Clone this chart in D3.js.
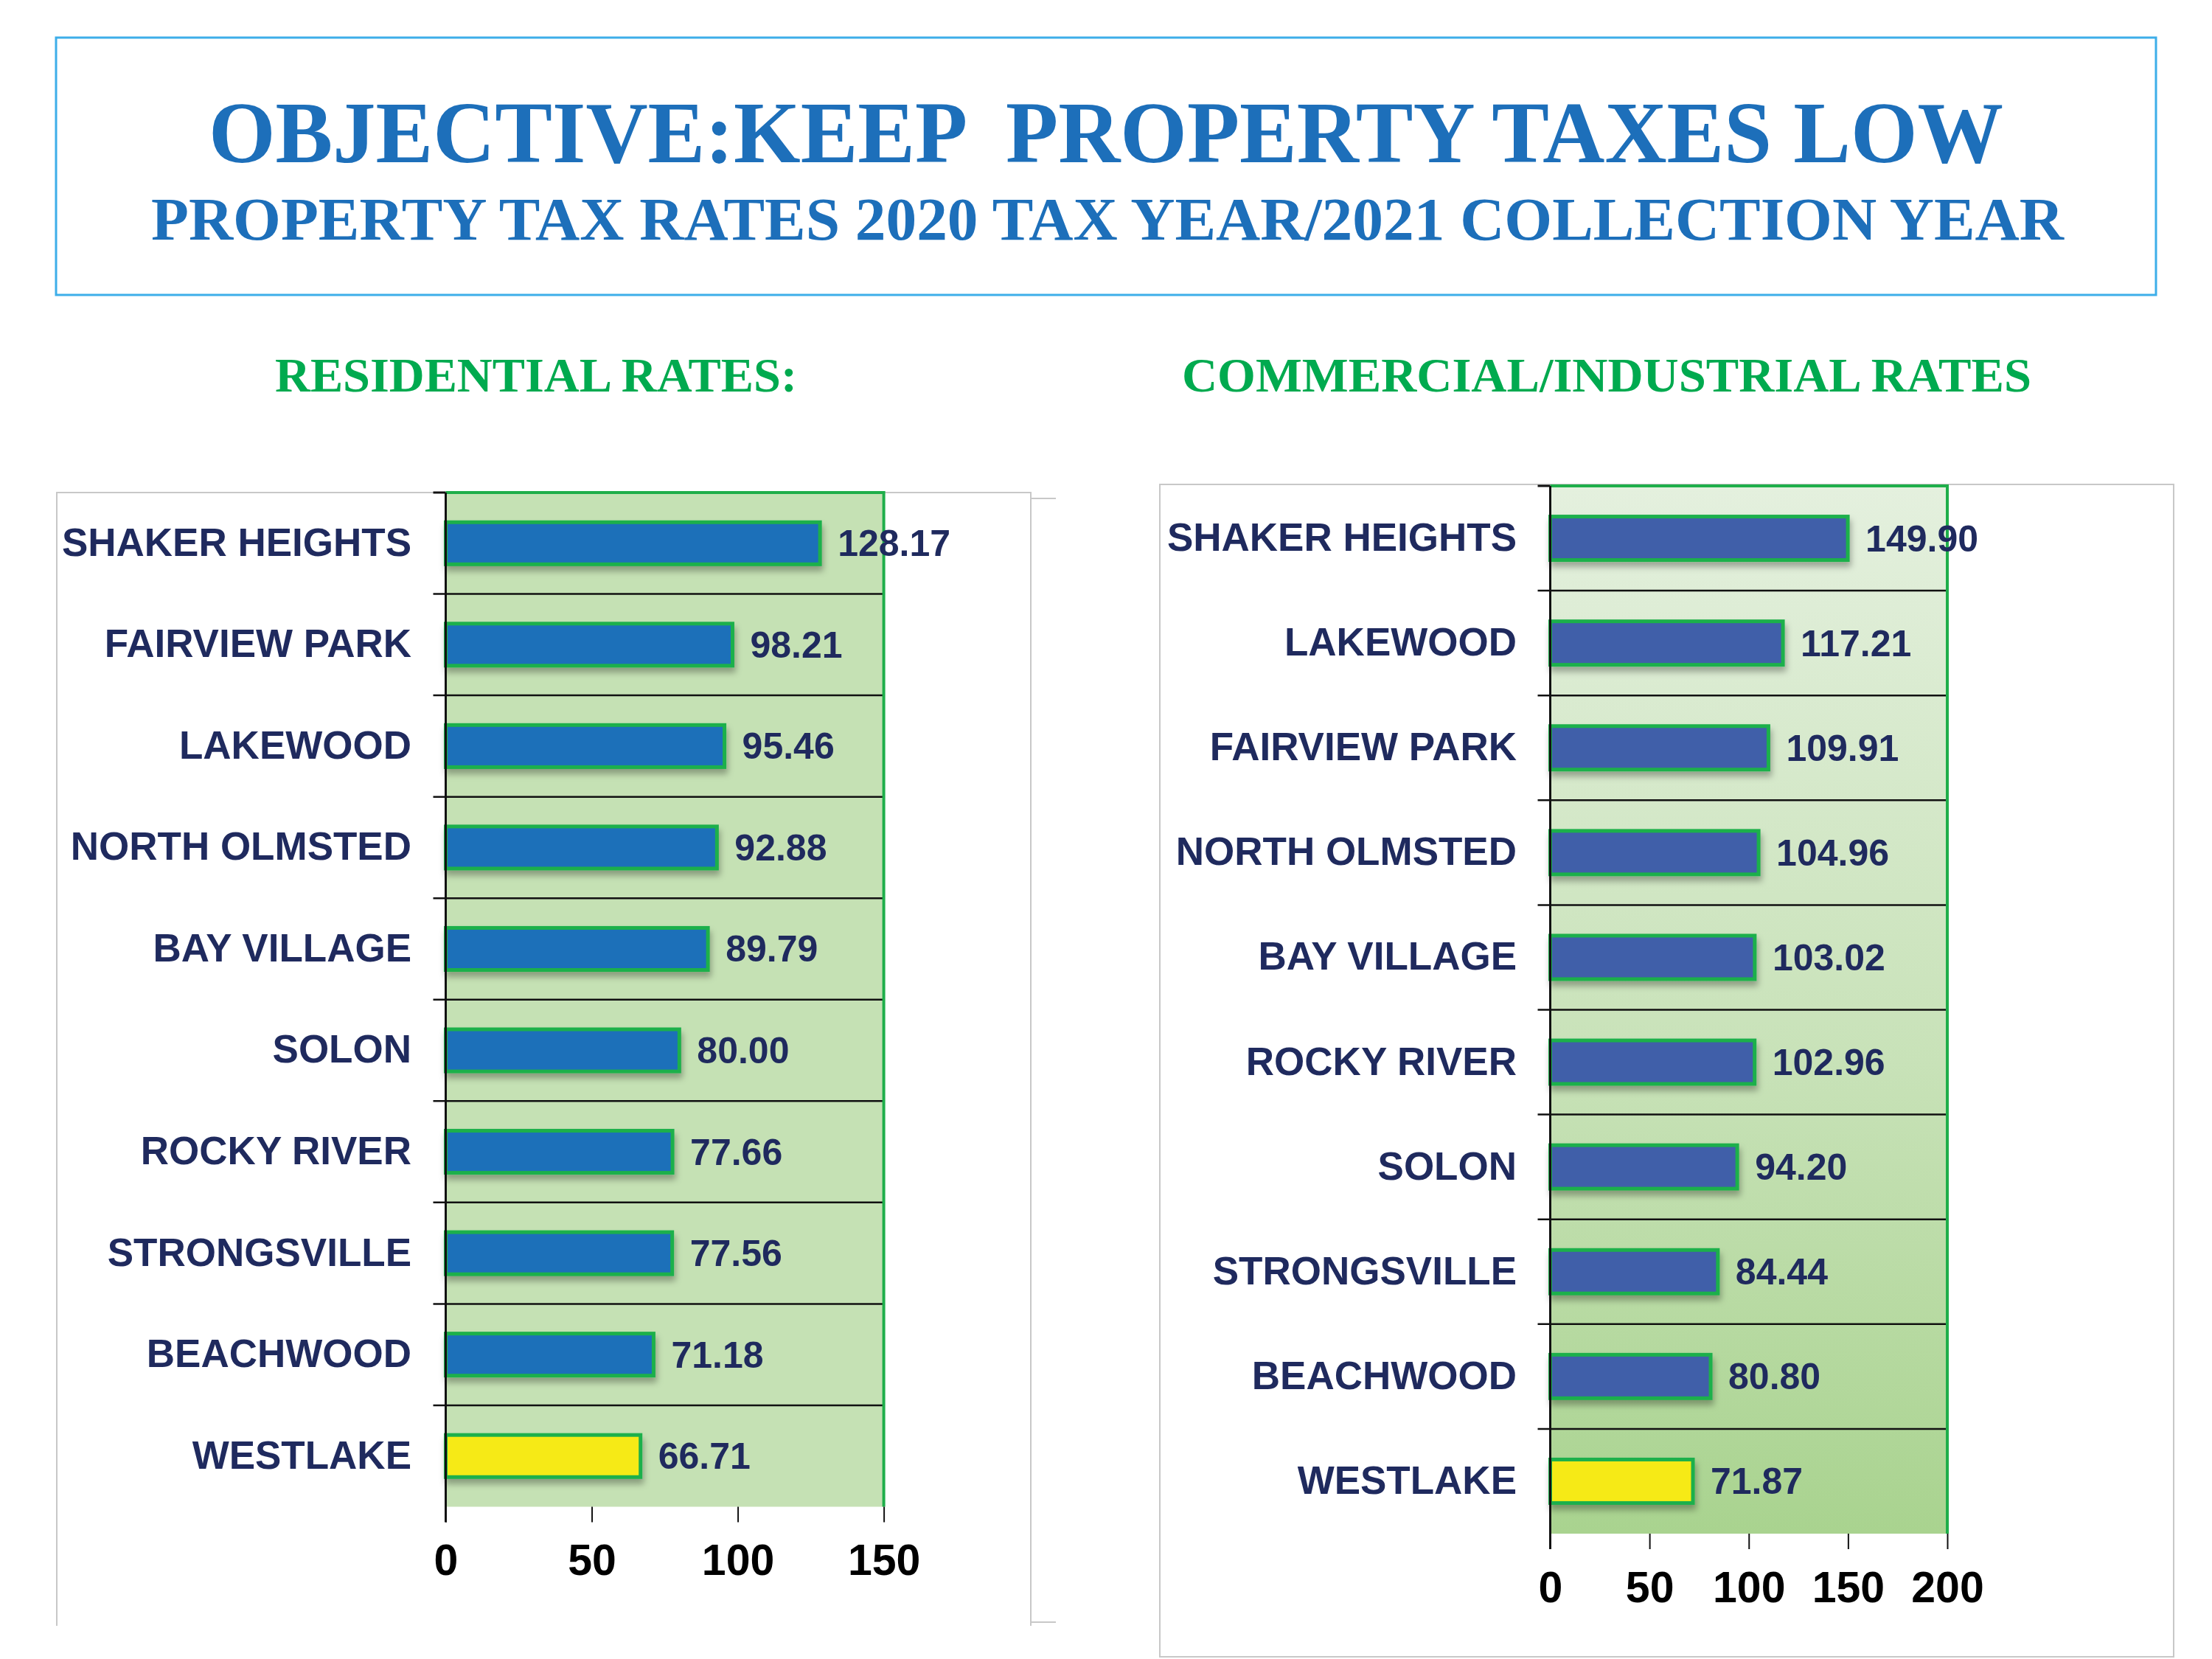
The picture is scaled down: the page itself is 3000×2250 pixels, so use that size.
<!DOCTYPE html>
<html>
<head>
<meta charset="utf-8">
<script src="https://cdn.jsdelivr.net/npm/d3@7"></script>
<style>
  html, body { margin: 0; padding: 0; background: #ffffff; }
  svg { display: block; }
</style>
</head>
<body>
<svg id="chart" width="3000" height="2250"></svg>
<script>
// ---------- DATA ----------
const titleLine1 = "OBJECTIVE:KEEP  PROPERTY TAXES LOW";
const titleLine2 = "PROPERTY TAX RATES 2020 TAX YEAR/2021 COLLECTION YEAR";
const residentialTitle = "RESIDENTIAL RATES:";
const commercialTitle = "COMMERCIAL/INDUSTRIAL RATES";

const residentialCities = ["SHAKER HEIGHTS", "FAIRVIEW PARK", "LAKEWOOD", "NORTH OLMSTED", "BAY VILLAGE",
                           "SOLON", "ROCKY RIVER", "STRONGSVILLE", "BEACHWOOD", "WESTLAKE"];
const residentialRates = [128.17, 98.21, 95.46, 92.88, 89.79, 80.00, 77.66, 77.56, 71.18, 66.71];
const residentialTicks = [0, 50, 100, 150];

const commercialCities = ["SHAKER HEIGHTS", "LAKEWOOD", "FAIRVIEW PARK", "NORTH OLMSTED", "BAY VILLAGE",
                          "ROCKY RIVER", "SOLON", "STRONGSVILLE", "BEACHWOOD", "WESTLAKE"];
const commercialRates = [149.90, 117.21, 109.91, 104.96, 103.02, 102.96, 94.20, 84.44, 80.80, 71.87];
const commercialTicks = [0, 50, 100, 150, 200];

const highlightCity = "WESTLAKE";

// ---------- DRAW ----------
const svg = d3.select("#chart");
const defs = svg.append("defs");

const shadow = defs.append("filter").attr("id", "shadow")
  .attr("x", "-10%").attr("y", "-30%").attr("width", "130%").attr("height", "180%");
shadow.append("feDropShadow").attr("dx", 2).attr("dy", 7).attr("stdDeviation", 4)
  .attr("flood-color", "#000").attr("flood-opacity", 0.3);

const grad = defs.append("linearGradient").attr("id", "greenGrad")
  .attr("x1", 0).attr("y1", 0).attr("x2", 0).attr("y2", 1);
grad.append("stop").attr("offset", "0%").attr("stop-color", "#e4f0de");
grad.append("stop").attr("offset", "55%").attr("stop-color", "#c8e2b8");
grad.append("stop").attr("offset", "100%").attr("stop-color", "#a9d38f");

// Header box
svg.append("rect").attr("x", 76).attr("y", 51).attr("width", 2848).attr("height", 349)
  .attr("fill", "none").attr("stroke", "#3daee9").attr("stroke-width", 3);

svg.append("text").attr("x", 1500).attr("y", 220).attr("text-anchor", "middle")
  .attr("font-family", "Liberation Serif, Times New Roman, serif").attr("font-weight", "bold")
  .attr("font-size", 118).attr("fill", "#1d6fba")
  .attr("textLength", 2434).attr("lengthAdjust", "spacingAndGlyphs")
  .style("white-space", "pre").text(titleLine1);

svg.append("text").attr("x", 1502).attr("y", 325).attr("text-anchor", "middle")
  .attr("font-family", "Liberation Serif, Times New Roman, serif").attr("font-weight", "bold")
  .attr("font-size", 82).attr("fill", "#1d6fba")
  .attr("textLength", 2594).attr("lengthAdjust", "spacingAndGlyphs")
  .text(titleLine2);

svg.append("text").attr("x", 727).attr("y", 531).attr("text-anchor", "middle")
  .attr("font-family", "Liberation Serif, Times New Roman, serif").attr("font-weight", "bold")
  .attr("font-size", 66).attr("fill", "#00aa4f")
  .attr("textLength", 708).attr("lengthAdjust", "spacingAndGlyphs")
  .text(residentialTitle);

svg.append("text").attr("x", 2179).attr("y", 531).attr("text-anchor", "middle")
  .attr("font-family", "Liberation Serif, Times New Roman, serif").attr("font-weight", "bold")
  .attr("font-size", 66).attr("fill", "#00aa4f")
  .attr("textLength", 1152).attr("lengthAdjust", "spacingAndGlyphs")
  .text(commercialTitle);

// Outer frames
const frameColor = "#c8c8c8";
svg.append("path").attr("d", "M77,2205 V668 H1398 V2205").attr("fill", "none")
  .attr("stroke", frameColor).attr("stroke-width", 2);
svg.append("path").attr("d", "M1398,676 H1432 M1398,2200 H1432").attr("fill", "none")
  .attr("stroke", frameColor).attr("stroke-width", 2);
svg.append("rect").attr("x", 1573).attr("y", 657).attr("width", 1375).attr("height", 1590)
  .attr("fill", "none").attr("stroke", frameColor).attr("stroke-width", 2);

function drawChart(opts) {
  const { cities, rates, ticks, xDomainMax, xRange, yRange, labelX, bg, barColor } = opts;
  const g = svg.append("g");

  const x = d3.scaleLinear().domain([0, xDomainMax]).range(xRange);
  const pi = 0.585;
  const y = d3.scaleBand().domain(cities).range(yRange).paddingInner(pi).paddingOuter(pi / 2);
  const step = y.step();

  g.append("rect").attr("x", xRange[0]).attr("y", yRange[0])
    .attr("width", xRange[1] - xRange[0]).attr("height", yRange[1] - yRange[0])
    .attr("fill", bg);

  const bounds = d3.range(cities.length + 1).map(i => yRange[0] + i * step);
  g.selectAll("line.sep").data(bounds.slice(1, -1)).join("line")
    .attr("x1", xRange[0] - 17).attr("x2", xRange[1])
    .attr("y1", d => d).attr("y2", d => d)
    .attr("stroke", "#111").attr("stroke-width", 2.5);
  g.append("line").attr("x1", xRange[0] - 17).attr("x2", xRange[0])
    .attr("y1", yRange[0]).attr("y2", yRange[0]).attr("stroke", "#111").attr("stroke-width", 3);

  g.append("path")
    .attr("d", `M${xRange[0]},${yRange[0]} H${xRange[1]} V${yRange[1]}`)
    .attr("fill", "none").attr("stroke", "#1fae4a").attr("stroke-width", 4);

  g.selectAll("rect.bar").data(cities).join("rect")
    .attr("class", "bar")
    .attr("x", xRange[0])
    .attr("y", d => y(d))
    .attr("width", (d, i) => x(rates[i]) - xRange[0])
    .attr("height", y.bandwidth())
    .attr("fill", d => d === highlightCity ? "#f6ea17" : barColor)
    .attr("stroke", "#1db04b").attr("stroke-width", 5)
    .attr("filter", "url(#shadow)");

  g.selectAll("text.val").data(cities).join("text")
    .attr("class", "val")
    .attr("x", (d, i) => x(rates[i]) + 24)
    .attr("y", d => y(d) + y.bandwidth() / 2)
    .attr("dy", "0.35em")
    .attr("font-family", "Liberation Sans, Arial, sans-serif").attr("font-weight", "bold")
    .attr("font-size", 50).attr("fill", "#1f2a5e")
    .text((d, i) => rates[i].toFixed(2));

  g.selectAll("text.cat").data(cities).join("text")
    .attr("class", "cat")
    .attr("x", labelX)
    .attr("y", d => y(d) + y.bandwidth() / 2)
    .attr("dy", "0.32em")
    .attr("text-anchor", "end")
    .attr("font-family", "Liberation Sans, Arial, sans-serif").attr("font-weight", "bold")
    .attr("font-size", 53).attr("fill", "#1f2a5e")
    .text(d => d);

  const xAxis = d3.axisBottom(x).tickValues(ticks).tickSize(21).tickPadding(30)
    .tickFormat(d3.format("d"));
  const ax = g.append("g").attr("transform", `translate(0,${yRange[1]})`).call(xAxis);
  ax.select(".domain").remove();
  ax.selectAll(".tick line").attr("stroke", "#111").attr("stroke-width", 2);
  ax.selectAll(".tick text")
    .attr("font-family", "Liberation Sans, Arial, sans-serif").attr("font-weight", "bold")
    .attr("font-size", 59).attr("fill", "#000");

  g.append("line").attr("x1", xRange[0] - 17).attr("x2", xRange[1])
    .attr("y1", yRange[1]).attr("y2", yRange[1])
    .attr("stroke", "#111").attr("stroke-width", 4).attr("filter", "url(#shadow)");

  g.append("line").attr("x1", xRange[0]).attr("x2", xRange[0])
    .attr("y1", yRange[0]).attr("y2", yRange[1] + 21)
    .attr("stroke", "#111").attr("stroke-width", 3);
}

drawChart({
  cities: residentialCities, rates: residentialRates, ticks: residentialTicks,
  xDomainMax: 150, xRange: [604.5, 1198.6], yRange: [668, 2043.5], labelX: 558,
  bg: "#c5e1b4", barColor: "#1e70b9"
});

drawChart({
  cities: commercialCities, rates: commercialRates, ticks: commercialTicks,
  xDomainMax: 200, xRange: [2102.5, 2641], yRange: [659, 2080], labelX: 2057,
  bg: "url(#greenGrad)", barColor: "#405fa9"
});
</script>
</body>
</html>
